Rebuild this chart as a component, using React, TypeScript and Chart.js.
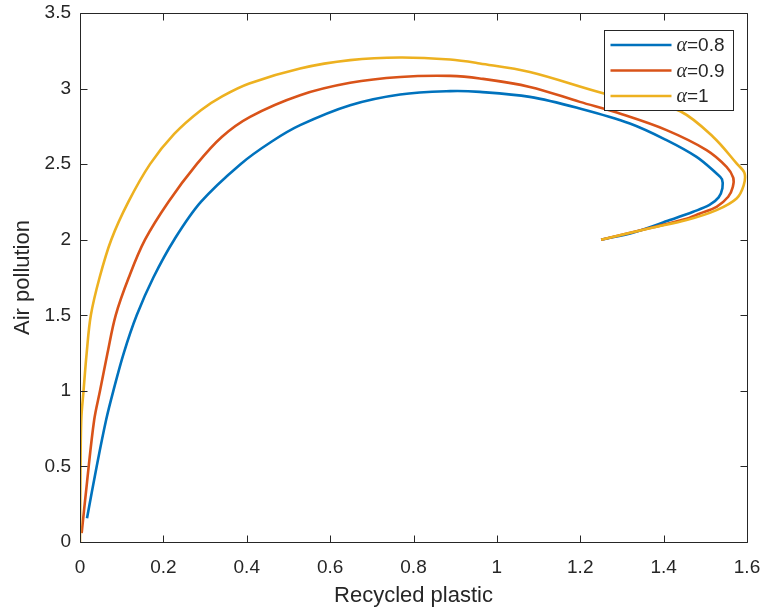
import React, { useEffect, useRef } from 'react';
import { Chart, registerables } from 'chart.js';

Chart.register(...registerables);

// ---- Data ----
const seriesLabels = ['α=0.8', 'α=0.9', 'α=1'];
const seriesColors = ['#0072BD', '#D95319', '#EDB120'];

const alpha08X = [1.25, 1.33, 1.415, 1.471, 1.51, 1.532, 1.541, 1.54, 1.527, 1.479, 1.407, 1.319, 1.199, 1.079, 0.959, 0.888, 0.768, 0.648, 0.528, 0.46, 0.385, 0.29, 0.226, 0.176, 0.136, 0.105, 0.08, 0.0626, 0.04, 0.0168];
const alpha08Y = [2.0, 2.05, 2.13, 2.185, 2.23, 2.28, 2.34, 2.4, 2.438, 2.548, 2.659, 2.769, 2.868, 2.945, 2.978, 2.983, 2.961, 2.89, 2.758, 2.65, 2.5, 2.25, 2.0, 1.75, 1.5, 1.25, 1.0, 0.807, 0.5, 0.157];

const alpha09X = [1.25, 1.375, 1.45, 1.487, 1.527, 1.555, 1.566, 1.567, 1.551, 1.503, 1.407, 1.3, 1.199, 1.079, 0.959, 0.888, 0.768, 0.648, 0.528, 0.408, 0.34, 0.28, 0.212, 0.156, 0.117, 0.0856, 0.066, 0.048, 0.034, 0.017, 0.004];
const alpha09Y = [2.0, 2.082, 2.135, 2.174, 2.218, 2.284, 2.35, 2.41, 2.482, 2.593, 2.725, 2.83, 2.912, 3.011, 3.067, 3.084, 3.077, 3.038, 2.956, 2.813, 2.68, 2.5, 2.25, 2.0, 1.75, 1.5, 1.25, 1.0, 0.807, 0.4, 0.058];

const alpha1X = [1.25, 1.375, 1.455, 1.527, 1.575, 1.592, 1.594, 1.575, 1.519, 1.44, 1.35, 1.257, 1.079, 0.959, 0.888, 0.768, 0.648, 0.528, 0.406, 0.342, 0.29, 0.226, 0.168, 0.116, 0.075, 0.047, 0.026, 0.016, 0.0085, 0.003, 0.001, 0.0];
const alpha1Y = [2.0, 2.081, 2.13, 2.196, 2.273, 2.36, 2.44, 2.505, 2.68, 2.85, 2.915, 2.968, 3.11, 3.166, 3.192, 3.206, 3.188, 3.133, 3.034, 2.95, 2.857, 2.7, 2.5, 2.25, 2.0, 1.75, 1.5, 1.25, 1.0, 0.807, 0.4, 0.0];

const xTickValues = [0, 0.2, 0.4, 0.6, 0.8, 1, 1.2, 1.4, 1.6];
const yTickValues = [0, 0.5, 1, 1.5, 2, 2.5, 3, 3.5];
const xTitle = 'Recycled plastic';
const yTitle = 'Air pollution';

const AXIS_COLOR = '#262626';
const SANS = '"Liberation Sans", Arial, Helvetica, sans-serif';
const SERIF = '"Liberation Serif", "Times New Roman", serif';

const toPoints = (xs: number[], ys: number[]) => xs.map((x, i) => ({ x, y: ys[i] }));

const matlabPlugin = {
  id: 'matlabBox',
  afterDatasetsDraw(chart: any) {
    const { ctx, chartArea: a, scales } = chart;
    ctx.save();
    ctx.strokeStyle = AXIS_COLOR;
    ctx.lineWidth = 1;
    const L = Math.round(a.left) + 0.5;
    const R = Math.round(a.right) + 0.5;
    const T = Math.round(a.top) + 0.5;
    const B = Math.round(a.bottom) + 0.5;
    ctx.beginPath();
    ctx.rect(L, T, R - L, B - T);
    const tl = 7;
    scales.x.ticks.forEach((t: any) => {
      const px = Math.round(scales.x.getPixelForValue(t.value)) + 0.5;
      ctx.moveTo(px, B);
      ctx.lineTo(px, B - tl);
      ctx.moveTo(px, T);
      ctx.lineTo(px, T + tl);
    });
    scales.y.ticks.forEach((t: any) => {
      const py = Math.round(scales.y.getPixelForValue(t.value)) + 0.5;
      ctx.moveTo(L, py);
      ctx.lineTo(L + tl, py);
      ctx.moveTo(R, py);
      ctx.lineTo(R - tl, py);
    });
    ctx.stroke();

    // Legend box inside the axes, top-right
    const boxW = 129;
    const boxH = 80;
    const bx = Math.round(a.right - 14 - boxW) + 0.5;
    const by = Math.round(a.top + 17) + 0.5;
    ctx.fillStyle = '#ffffff';
    ctx.fillRect(bx, by, boxW, boxH);
    ctx.strokeRect(bx, by, boxW, boxH);
    const rowGap = 25.5;
    chart.data.datasets.forEach((ds: any, i: number) => {
      const cy = by + 14.5 + i * rowGap;
      ctx.strokeStyle = ds.borderColor;
      ctx.lineWidth = 2.6;
      ctx.beginPath();
      ctx.moveTo(bx + 6, cy);
      ctx.lineTo(bx + 67, cy);
      ctx.stroke();
      const label: string = ds.label;
      const first = label.charAt(0);
      const rest = label.slice(1);
      ctx.fillStyle = AXIS_COLOR;
      ctx.textBaseline = 'middle';
      ctx.textAlign = 'left';
      ctx.font = `italic 20px ${SERIF}`;
      const tx = bx + 72;
      ctx.fillText(first, tx, cy + 1);
      const w = ctx.measureText(first).width;
      ctx.font = `19px ${SANS}`;
      ctx.fillText(rest, tx + w, cy + 1);
    });
    ctx.restore();
  },
};

export default function App() {
  const canvasRef = useRef<HTMLCanvasElement | null>(null);

  useEffect(() => {
    const canvas = canvasRef.current;
    if (!canvas) return;
    const xs = [alpha08X, alpha09X, alpha1X];
    const ys = [alpha08Y, alpha09Y, alpha1Y];
    const chart = new Chart(canvas, {
      type: 'scatter',
      data: {
        datasets: seriesLabels.map((label, i) => ({
          label,
          data: toPoints(xs[i], ys[i]),
          borderColor: seriesColors[i],
          backgroundColor: seriesColors[i],
          showLine: true,
          pointRadius: 0,
          pointHoverRadius: 0,
          borderWidth: 2.6,
          tension: 0.35,
          fill: false,
          order: 2 - i,
        })),
      },
      options: {
        responsive: false,
        animation: false,
        devicePixelRatio: 1,
        layout: { padding: { left: 0, right: 20, top: 13, bottom: 0 } },
        plugins: {
          legend: { display: false },
          tooltip: { enabled: false },
        },
        scales: {
          x: {
            type: 'linear',
            min: 0,
            max: 1.6,
            afterBuildTicks: (s: any) => {
              s.ticks = xTickValues.map((v) => ({ value: v }));
            },
            afterFit: (s: any) => {
              s.height = 72;
              s.paddingLeft = 0;
              s.paddingRight = 0;
            },
            grid: { display: false, drawTicks: false },
            border: { display: false },
            ticks: {
              padding: 14,
              color: AXIS_COLOR,
              font: { family: SANS, size: 19 },
              maxRotation: 0,
              autoSkip: false,
              callback: (v: any) => String(v),
            },
            title: {
              display: true,
              text: xTitle,
              color: AXIS_COLOR,
              font: { family: SANS, size: 22 },
              padding: { top: 0, bottom: 5 },
            },
          },
          y: {
            type: 'linear',
            min: 0,
            max: 3.5,
            afterBuildTicks: (s: any) => {
              s.ticks = yTickValues.map((v) => ({ value: v }));
            },
            afterFit: (s: any) => {
              s.width = 80;
              s.paddingTop = 0;
              s.paddingBottom = 0;
            },
            grid: { display: false, drawTicks: false },
            border: { display: false },
            ticks: {
              padding: 9,
              color: AXIS_COLOR,
              font: { family: SANS, size: 19 },
              autoSkip: false,
              callback: (v: any) => String(v),
            },
            title: {
              display: true,
              text: yTitle,
              color: AXIS_COLOR,
              font: { family: SANS, size: 22 },
              padding: { top: 10, bottom: 0 },
            },
          },
        },
      },
      plugins: [matlabPlugin],
    });
    return () => chart.destroy();
  }, []);

  return (
    <div style={{ position: 'fixed', left: 0, top: 0, width: 767, height: 614, background: '#ffffff' }}>
      <canvas ref={canvasRef} width={767} height={614} style={{ display: 'block' }} />
    </div>
  );
}
